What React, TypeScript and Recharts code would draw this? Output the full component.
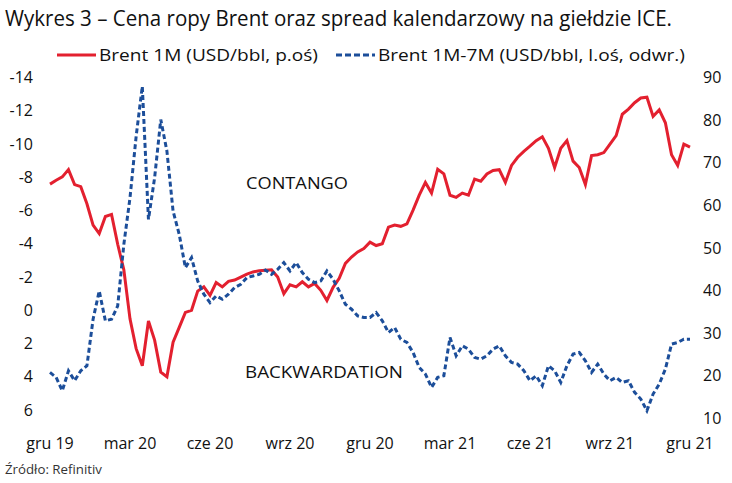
import { LineChart, Line, XAxis, YAxis } from "recharts";

// weekly points, week 0 = mid Dec 2019
const brent = [
    65.1, 66.0, 66.8, 68.5, 65.0, 64.5, 60.5, 55.5, 53.5, 57.5,
    58.0, 51.0, 45.0, 33.5, 26.5, 22.5, 33.0, 28.5, 21.0, 19.9,
    28.0, 31.5, 35.0, 35.5, 40.0, 41.0, 39.0, 42.0, 41.0, 42.3,
    42.6, 43.3, 44.0, 44.5, 44.8, 44.9, 45.0, 43.3, 39.4, 41.5,
    41.0, 42.2, 41.0, 41.8, 40.2, 37.8, 40.9, 43.0, 46.5, 48.0,
    49.2, 50.0, 51.5, 50.7, 51.1, 55.0, 55.5, 55.2, 55.8, 59.0,
    62.5, 65.5, 63.0, 68.6, 67.5, 62.5, 62.0, 63.0, 62.5, 66.3,
    65.8, 67.5, 68.3, 68.5, 65.5, 69.5, 71.4, 72.8, 74.0, 75.3,
    76.2, 73.5, 69.0, 73.5, 75.3, 70.5, 69.0, 65.0, 71.8, 72.0,
    72.5, 74.5, 76.5, 81.5, 82.7, 84.2, 85.3, 85.5, 81.0, 82.5,
    79.5, 72.0, 69.5, 74.5, 73.8,
];

const spread = [
    3.7, 4.0, 4.8, 3.6, 4.2, 3.6, 3.3, 0.5, -1.2, 0.6,
    0.5, -0.3, -4.0, -6.8, -10.5, -13.5, -5.5, -8.0, -11.5, -9.6,
    -6.0, -4.6, -2.6, -3.2, -1.8, -1.0, -0.5, -0.9, -0.7, -1.0,
    -1.4, -1.6, -2.0, -2.1, -2.2, -2.45, -2.2, -2.5, -2.9, -2.4,
    -2.9, -2.3, -1.9, -1.7, -1.8, -2.4, -1.9, -1.2, -0.4, -0.1,
    0.3, 0.4, 0.4, 0.1, 0.6, 1.3, 1.0, 1.7, 1.9, 2.5,
    3.4, 3.8, 4.6, 4.0, 3.9, 1.6, 2.7, 2.1, 2.3, 2.8,
    2.9, 2.7, 2.3, 2.1, 2.7, 3.1, 3.2, 3.6, 4.2, 3.9,
    4.5, 3.3, 3.6, 4.3, 3.3, 2.6, 2.5, 3.0, 3.7, 3.2,
    3.8, 4.2, 4.0, 4.3, 4.2, 4.9, 5.3, 6.0, 5.0, 4.4,
    3.5, 2.0, 1.9, 1.7, 1.7,
];

const monthLabels = ["gru 19", "mar 20", "cze 20", "wrz 20", "gru 20", "mar 21", "cze 21", "wrz 21", "gru 21"];
const monthTicks = [0, 13, 26, 39, 52, 65, 78, 91, 104];
const leftTicks = [-14, -12, -10, -8, -6, -4, -2, 0, 2, 4, 6];
const rightTicks = [10, 20, 30, 40, 50, 60, 70, 80, 90];

const data = brent.map((b, i) => ({ w: i, brent: b, spread: spread[i] }));

const RED = "#E3202F";
const BLUE = "#1C4E9A";
const FONT = "'Open Sans', 'Noto Sans', sans-serif";

const LeftTick = ({ y, payload }: any) => (
    <text x={33} y={y} dy={5} textAnchor="end" fontSize={16} fontFamily={FONT} fill="#111">
        {payload.value}
    </text>
);

const RightTick = ({ y, payload }: any) => (
    <text x={703} y={y} dy={5} textAnchor="start" fontSize={16} fontFamily={FONT} fill="#111">
        {payload.value}
    </text>
);

const BottomTick = ({ x, payload }: any) => (
    <text x={x} y={449} textAnchor="middle" fontSize={16} fontFamily={FONT} fill="#111">
        {monthLabels[monthTicks.indexOf(payload.value)]}
    </text>
);

const App = () => {
    return (
        <div style={{ position: "absolute", left: 0, top: 0, width: 732, height: 483, background: "#fff" }}>
            <LineChart
                width={732}
                height={483}
                data={data}
                margin={{ top: 78, right: 0, bottom: 30, left: 8 }}
            >
                <XAxis
                    dataKey="w"
                    type="number"
                    domain={[0, 104]}
                    ticks={monthTicks}
                    axisLine={false}
                    tickLine={false}
                    tick={<BottomTick />}
                    height={34}
                />
                <YAxis
                    yAxisId="left"
                    orientation="left"
                    reversed
                    domain={[-14, 6.5]}
                    ticks={leftTicks}
                    axisLine={false}
                    tickLine={false}
                    tick={<LeftTick />}
                    width={42}
                    allowDataOverflow
                />
                <YAxis
                    yAxisId="right"
                    orientation="right"
                    domain={[10, 90]}
                    ticks={rightTicks}
                    axisLine={false}
                    tickLine={false}
                    tick={<RightTick />}
                    width={42}
                />
                <Line
                    yAxisId="right"
                    dataKey="brent"
                    stroke={RED}
                    strokeWidth={3}
                    dot={false}
                    type="linear"
                    isAnimationActive={false}
                />
                <Line
                    yAxisId="left"
                    dataKey="spread"
                    stroke={BLUE}
                    strokeWidth={3}
                    strokeDasharray="5 3"
                    dot={false}
                    type="linear"
                    isAnimationActive={false}
                />
            </LineChart>
            <svg
                width={732}
                height={483}
                style={{ position: "absolute", left: 0, top: 0, pointerEvents: "none" }}
            >
                <text x={5} y={26} fontSize={21} fontFamily={FONT} fill="#111" textLength={667} lengthAdjust="spacingAndGlyphs">
                    Wykres 3 – Cena ropy Brent oraz spread kalendarzowy na giełdzie ICE.
                </text>
                <line x1={57} x2={96} y1={55} y2={55} stroke={RED} strokeWidth={3} />
                <text x={99} y={61} fontSize={17} fontFamily={FONT} fill="#111" textLength={219} lengthAdjust="spacingAndGlyphs">
                    Brent 1M (USD/bbl, p.oś)
                </text>
                <line x1={336} x2={375} y1={55} y2={55} stroke={BLUE} strokeWidth={3} strokeDasharray="6 3" />
                <text x={378} y={61} fontSize={17} fontFamily={FONT} fill="#111" textLength={307} lengthAdjust="spacingAndGlyphs">
                    Brent 1M-7M (USD/bbl, l.oś, odwr.)
                </text>
                <text x={246} y={189} fontSize={17} fontFamily={FONT} fill="#111" textLength={102} lengthAdjust="spacingAndGlyphs">
                    CONTANGO
                </text>
                <text x={245} y={378} fontSize={17} fontFamily={FONT} fill="#111" textLength={158} lengthAdjust="spacingAndGlyphs">
                    BACKWARDATION
                </text>
                <text x={5} y={474} fontSize={12} fontFamily={FONT} fill="#333" textLength={97} lengthAdjust="spacingAndGlyphs">
                    Źródło: Refinitiv
                </text>
            </svg>
        </div>
    );
};

export default App;
